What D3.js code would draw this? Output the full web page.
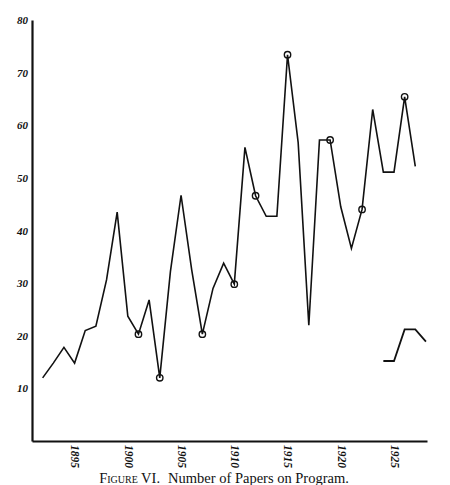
<!DOCTYPE html>
<html>
<head>
<meta charset="utf-8">
<script src="https://cdn.jsdelivr.net/npm/d3@7/dist/d3.min.js"></script>
<style>
  html, body { margin: 0; padding: 0; background: #ffffff; }
  svg { display: block; }
  .tick text { font-family: "Liberation Serif", "DejaVu Serif", serif; font-style: italic; font-weight: bold; fill: #111; }
</style>
</head>
<body>
<svg id="chart" width="450" height="485"></svg>
<script>
// ---- data ----
const years = [1892, 1893, 1894, 1895, 1896, 1897, 1898, 1899, 1900, 1901,
               1902, 1903, 1904, 1905, 1906, 1907, 1908, 1909, 1910, 1911,
               1912, 1913, 1914, 1915, 1916, 1917, 1918, 1919, 1920, 1921,
               1922, 1923, 1924, 1925, 1926, 1927];
const papers = [12, 14.8, 17.8, 14.8, 21, 21.8, 30.6, 43.5, 23.7, 20.3,
                26.8, 12, 32.2, 46.7, 32.5, 20.3, 29, 33.8, 29.8, 55.8,
                46.6, 42.7, 42.7, 73.4, 56.7, 22, 57.2, 57.2, 44.5, 36.6,
                44, 63, 51.1, 51.1, 65.4, 52.2];
const circledYears = [1901, 1903, 1907, 1910, 1912, 1915, 1919, 1922, 1926];
const secondYears = [1924, 1925, 1926, 1927, 1928];
const secondValues = [15.2, 15.2, 21.2, 21.2, 18.9];
const yTicks = [10, 20, 30, 40, 50, 60, 70, 80];
const xTicks = [1895, 1900, 1905, 1910, 1915, 1920, 1925];
const caption = ["Figure VI.", "Number of Papers on Program."];

// ---- drawing ----
const svg = d3.select("#chart");
const x = d3.scaleLinear().domain([1891, 1928.1]).range([32, 427]);
const y = d3.scaleLinear().domain([0, 80]).range([441, 20]);
const ink = "#111";

// y axis
const gy = svg.append("g").attr("transform", "translate(32,0)")
  .call(d3.axisLeft(y).tickValues(yTicks).tickSize(0).tickPadding(4).tickFormat(d3.format("d")));
gy.select(".domain").attr("stroke", ink).attr("stroke-width", 2.2);
gy.selectAll(".tick text").attr("font-size", 11);

// x axis
const gx = svg.append("g").attr("transform", "translate(0,441)")
  .call(d3.axisBottom(x).tickValues(xTicks).tickSize(0).tickFormat(d3.format("d")));
gx.select(".domain").attr("stroke", ink).attr("stroke-width", 2.2);
gx.selectAll(".tick text")
  .attr("font-size", 11.5)
  .attr("text-anchor", "start")
  .attr("transform", "rotate(90)")
  .attr("x", 4)
  .attr("y", 0)
  .attr("dy", "0.32em");

// main line
const line = d3.line().x(d => x(d[0])).y(d => y(d[1]));
const mainData = years.map((yr, i) => [yr, papers[i]]);
svg.append("path")
  .datum(mainData)
  .attr("d", line)
  .attr("fill", "none")
  .attr("stroke", ink)
  .attr("stroke-width", 1.6)
  .attr("stroke-linejoin", "miter");

// circles
svg.selectAll("circle.mark")
  .data(mainData.filter(d => circledYears.includes(d[0])))
  .join("circle")
  .attr("class", "mark")
  .attr("cx", d => x(d[0]))
  .attr("cy", d => y(d[1]))
  .attr("r", 3.2)
  .attr("fill", "none")
  .attr("stroke", ink)
  .attr("stroke-width", 1.4);

// second short line
svg.append("path")
  .datum(secondYears.map((yr, i) => [yr, secondValues[i]]))
  .attr("d", line)
  .attr("fill", "none")
  .attr("stroke", ink)
  .attr("stroke-width", 1.8);

// caption
const cap = svg.append("text")
  .attr("x", 224)
  .attr("y", 483)
  .attr("text-anchor", "middle")
  .attr("font-family", "Liberation Serif, DejaVu Serif, serif")
  .attr("font-size", 14.5)
  .attr("fill", ink);
cap.append("tspan").style("font-variant", "small-caps").text(caption[0]);
cap.append("tspan").attr("dx", 8).text(caption[1]);
</script>
</body>
</html>
